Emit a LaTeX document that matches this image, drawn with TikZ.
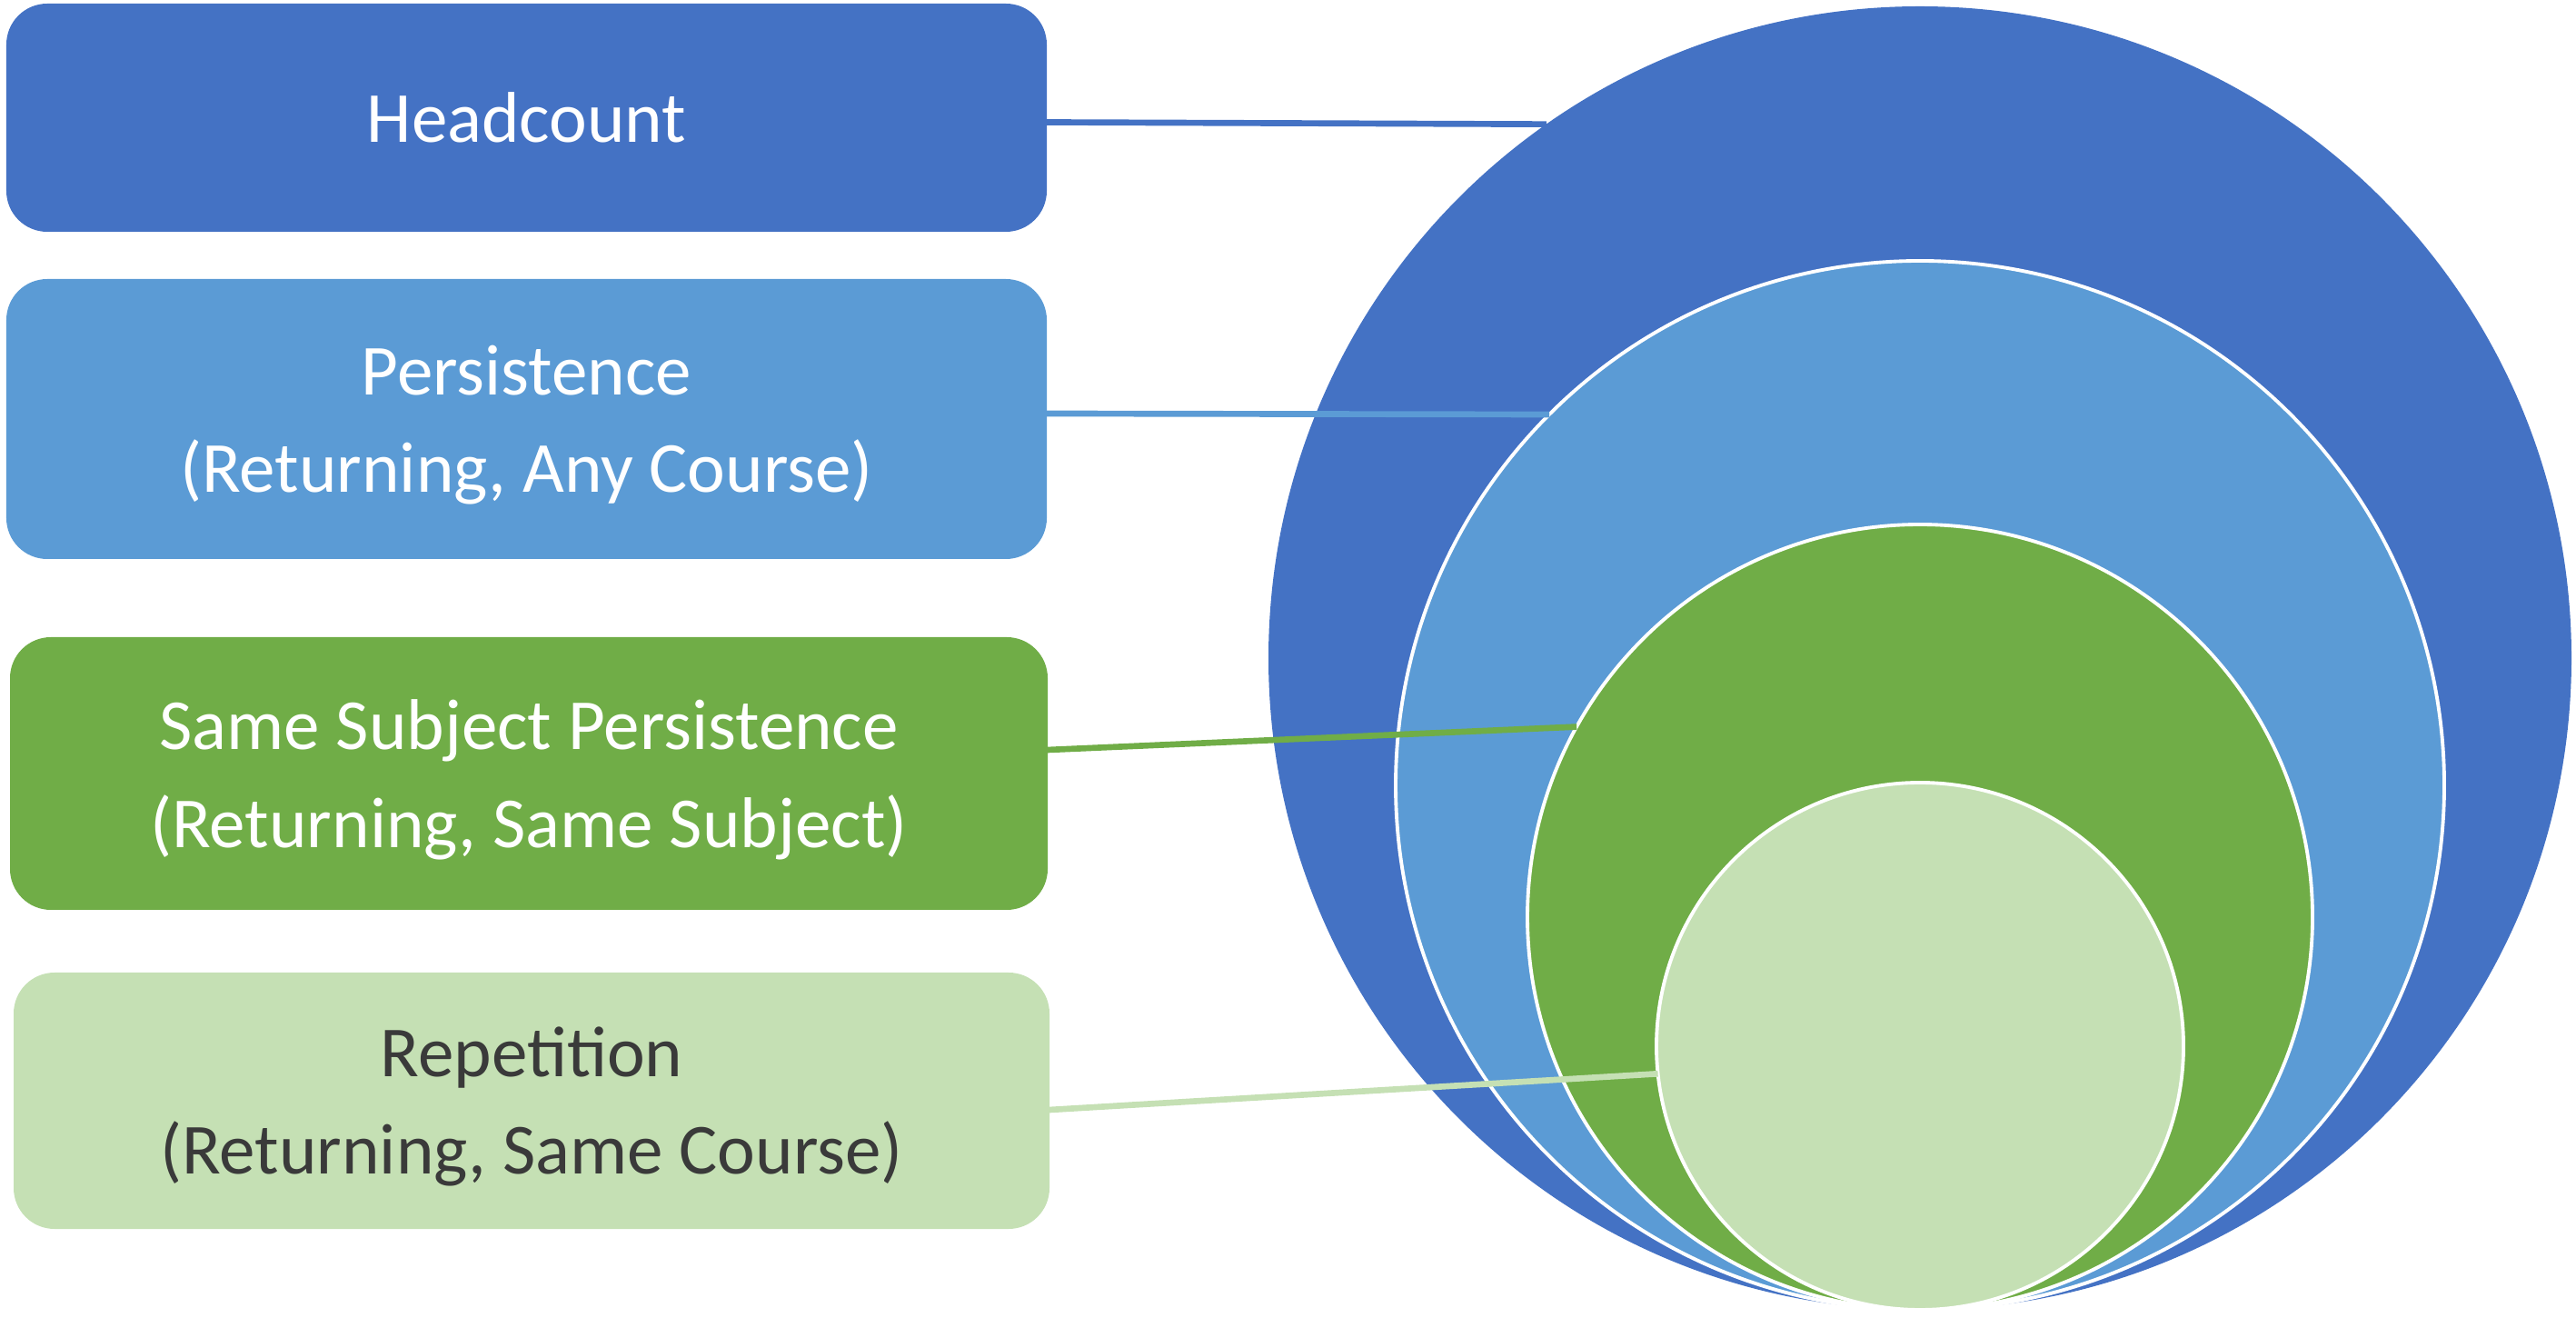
\documentclass[tikz,border=0pt]{standalone}
\usepackage{fontspec}
\setmainfont{Carlito}
\definecolor{dblue}{HTML}{4472C4}
\definecolor{lblue}{HTML}{5B9BD5}
\definecolor{dgreen}{HTML}{70AD47}
\definecolor{lgreen}{HTML}{C5E0B4}
\definecolor{dtext}{HTML}{3A3A3A}
\tikzset{
  labelbox/.style={rectangle, rounded corners=0.45cm, inner sep=0pt, outer sep=0pt,
    align=center, text depth=0pt, font=\fontsize{22.5}{30.5}\selectfont},
  ring/.style={circle, inner sep=0pt, outer sep=0pt, draw=white, line width=1.1pt},
  link/.style={line width=1.9pt}
}
\begin{document}
\begin{tikzpicture}
\useasboundingbox (0,0) rectangle (28.35,14.49);
% label boxes
\node[labelbox, fill=dblue, text=white, minimum width=11.45cm, minimum height=2.51cm] (b1) at (5.795,13.195) {Headcount};
\node[labelbox, fill=lblue, text=white, minimum width=11.45cm, minimum height=3.08cm] (b2) at (5.795,9.88) {Persistence\\(Returning, Any Course)};
\node[labelbox, fill=dgreen, text=white, minimum width=11.42cm, minimum height=3.00cm] (b3) at (5.82,5.98) {Same Subject Persistence\\(Returning, Same Subject)};
\node[labelbox, fill=lgreen, text=dtext, minimum width=11.40cm, minimum height=2.82cm] (b4) at (5.85,2.38) {Repetition\\(Returning, Same Course)};
% nested circles
\node[ring, fill=dblue, draw=none, minimum size=14.34cm] (c1) at (21.13,7.25) {};
\node[ring, fill=lblue, minimum size=11.54cm] (c2) at (21.13,5.85) {};
\node[ring, fill=dgreen, minimum size=8.64cm] (c3) at (21.13,4.40) {};
\node[ring, fill=lgreen, minimum size=5.80cm] (c4) at (21.13,2.98) {};
% connector start points
\coordinate (s1) at ([yshift=-0.5mm]b1.east);
\coordinate (s2) at ([yshift=0.6mm]b2.east);
\coordinate (s3) at ([yshift=2.6mm]b3.east);
\coordinate (s4) at ([yshift=-1.0mm]b4.east);
% connectors
\draw[link, dblue] (s1) -- (c1.125.9);
\draw[link, lblue] (s2) -- (c2.135.3);
\draw[link, dgreen] (s3) -- (c3.151.6);
\draw[link, lgreen] (s4) -- (c4.186.9);
\end{tikzpicture}
\end{document}
